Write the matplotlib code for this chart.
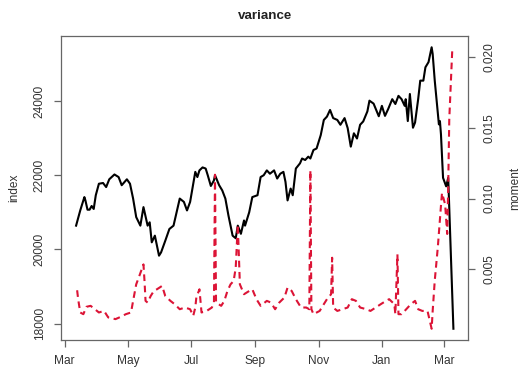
import matplotlib
matplotlib.use("Agg")
import matplotlib.pyplot as plt
import matplotlib.dates as mdates
import numpy as np
import pandas as pd

plt.rcParams["font.family"] = ["Liberation Sans", "DejaVu Sans"]

# Index level (left axis)
index_dates = [
    "2019-03-12", "2019-03-16", "2019-03-20", "2019-03-21", "2019-03-23", "2019-03-25",
    "2019-03-27", "2019-03-29", "2019-03-31", "2019-04-03", "2019-04-07", "2019-04-10",
    "2019-04-13", "2019-04-18", "2019-04-22", "2019-04-25", "2019-04-30", "2019-05-03",
    "2019-05-06", "2019-05-09", "2019-05-13", "2019-05-16", "2019-05-20", "2019-05-22",
    "2019-05-24", "2019-05-27", "2019-05-31", "2019-06-02", "2019-06-06", "2019-06-10",
    "2019-06-14", "2019-06-20", "2019-06-24", "2019-06-27", "2019-06-30", "2019-07-05",
    "2019-07-07", "2019-07-09", "2019-07-12", "2019-07-15", "2019-07-17", "2019-07-20",
    "2019-07-23", "2019-07-24", "2019-07-28", "2019-07-31", "2019-08-03", "2019-08-06",
    "2019-08-10", "2019-08-13", "2019-08-15", "2019-08-18", "2019-08-21", "2019-08-22",
    "2019-08-26", "2019-08-29", "2019-09-03", "2019-09-06", "2019-09-09", "2019-09-12",
    "2019-09-15", "2019-09-19", "2019-09-22", "2019-09-25", "2019-09-28", "2019-09-30",
    "2019-10-02", "2019-10-05", "2019-10-07", "2019-10-10", "2019-10-14", "2019-10-16",
    "2019-10-19", "2019-10-22", "2019-10-24", "2019-10-27", "2019-10-30", "2019-11-03",
    "2019-11-06", "2019-11-09", "2019-11-12", "2019-11-15", "2019-11-19", "2019-11-22",
    "2019-11-26", "2019-11-29", "2019-12-02", "2019-12-05", "2019-12-08", "2019-12-11",
    "2019-12-14", "2019-12-18", "2019-12-20", "2019-12-24", "2019-12-29", "2020-01-01",
    "2020-01-04", "2020-01-07", "2020-01-11", "2020-01-14", "2020-01-17", "2020-01-20",
    "2020-01-23", "2020-01-24", "2020-01-26", "2020-01-28", "2020-01-31", "2020-02-02",
    "2020-02-05", "2020-02-07", "2020-02-10", "2020-02-12", "2020-02-15", "2020-02-18",
    "2020-02-19", "2020-02-21", "2020-02-25", "2020-02-26", "2020-02-27", "2020-02-29",
    "2020-03-03", "2020-03-05", "2020-03-10",
]
index_values = [
    20640, 21050, 21410, 21320, 21070, 21070,
    21170, 21090, 21460, 21770, 21790, 21680,
    21890, 22020, 21950, 21730, 21890, 21770,
    21370, 20870, 20640, 21140, 20640, 20730,
    20190, 20370, 19830, 19920, 20230, 20550,
    20640, 21370, 21280, 21050, 21280, 22090,
    21950, 22130, 22210, 22180, 22000, 21710,
    21860, 22000, 21730, 21590, 21370, 20910,
    20370, 20300, 20640, 20420, 20780, 20640,
    21000, 21410, 21460, 21950, 22000, 22130,
    22040, 22130, 21910, 22040, 22090, 21820,
    21320, 21640, 21460, 22180, 22320, 22450,
    22410, 22500, 22450, 22680, 22720, 23080,
    23490, 23580, 23760, 23540, 23490, 23360,
    23540, 23270, 22770, 23130, 22990, 23360,
    23450, 23720, 24010, 23930, 23590, 23870,
    23600, 23780, 24050, 23920, 24140, 24050,
    23870, 24050, 23460, 24190, 23280, 23420,
    24050, 24550, 24550, 24910, 25050, 25450,
    25270, 24550, 23370, 23460, 23100, 21930,
    21700, 21930, 17860,
]

# Moment series (right axis)
moment_dates = [
    "2019-03-13", "2019-03-14", "2019-03-16", "2019-03-19", "2019-03-22", "2019-03-26",
    "2019-03-29", "2019-04-03", "2019-04-08", "2019-04-12", "2019-04-19", "2019-04-24",
    "2019-04-29", "2019-05-04", "2019-05-06", "2019-05-09", "2019-05-12", "2019-05-16",
    "2019-05-17", "2019-05-18", "2019-05-20", "2019-05-23", "2019-05-26", "2019-05-29",
    "2019-06-03", "2019-06-06", "2019-06-11", "2019-06-15", "2019-06-20", "2019-06-25",
    "2019-06-30", "2019-07-03", "2019-07-05", "2019-07-06", "2019-07-09", "2019-07-11",
    "2019-07-16", "2019-07-21", "2019-07-23", "2019-07-24", "2019-07-25", "2019-07-30",
    "2019-08-02", "2019-08-05", "2019-08-08", "2019-08-11", "2019-08-13", "2019-08-15",
    "2019-08-17", "2019-08-21", "2019-08-26", "2019-08-29", "2019-09-02", "2019-09-06",
    "2019-09-12", "2019-09-16", "2019-09-20", "2019-09-24", "2019-09-29", "2019-10-02",
    "2019-10-06", "2019-10-10", "2019-10-15", "2019-10-20", "2019-10-23", "2019-10-24",
    "2019-10-25", "2019-10-27", "2019-11-02", "2019-11-05", "2019-11-09", "2019-11-13",
    "2019-11-14", "2019-11-15", "2019-11-19", "2019-11-24", "2019-11-29", "2019-12-03",
    "2019-12-07", "2019-12-11", "2019-12-17", "2019-12-21", "2019-12-26", "2019-12-31",
    "2020-01-05", "2020-01-08", "2020-01-13", "2020-01-14", "2020-01-16", "2020-01-17",
    "2020-01-20", "2020-01-23", "2020-01-26", "2020-01-29", "2020-02-02", "2020-02-05",
    "2020-02-09", "2020-02-14", "2020-02-18", "2020-02-19", "2020-02-21", "2020-02-24",
    "2020-02-27", "2020-02-28", "2020-03-02", "2020-03-04", "2020-03-05", "2020-03-06",
    "2020-03-09",
]
moment_values = [
    0.00352, 0.00289, 0.00195, 0.00183, 0.00235, 0.00242,
    0.00225, 0.00195, 0.00206, 0.00160, 0.00148, 0.00164,
    0.00183, 0.00195, 0.00277, 0.00394, 0.00453, 0.00535,
    0.00418, 0.00277, 0.00265, 0.00312, 0.00347, 0.00359,
    0.00383, 0.00312, 0.00277, 0.00254, 0.00218, 0.00230,
    0.00218, 0.00171, 0.00230, 0.00301, 0.00359, 0.00195,
    0.00206, 0.00230, 0.00265, 0.01169, 0.00265, 0.00242,
    0.00277, 0.00347, 0.00394, 0.00418, 0.00512, 0.00817,
    0.00394, 0.00324, 0.00347, 0.00359, 0.00289, 0.00242,
    0.00277, 0.00265, 0.00218, 0.00265, 0.00301, 0.00371,
    0.00347, 0.00289, 0.00230, 0.00230, 0.00218, 0.01200,
    0.00218, 0.00183, 0.00206, 0.00242, 0.00289, 0.00324,
    0.00582, 0.00230, 0.00206, 0.00218, 0.00230, 0.00289,
    0.00277, 0.00230, 0.00218, 0.00206, 0.00230, 0.00254,
    0.00277, 0.00289, 0.00254, 0.00183, 0.00606, 0.00183,
    0.00183, 0.00206, 0.00230, 0.00254, 0.00277, 0.00218,
    0.00206, 0.00206, 0.00080, 0.00206, 0.00420, 0.00660,
    0.00950, 0.01040, 0.00960, 0.00750, 0.01090, 0.01560,
    0.02070,
]

left_ticks = [18000, 20000, 22000, 24000]
right_ticks = [0.005, 0.010, 0.015, 0.020]
right_tick_labels = ["0.005", "0.010", "0.015", "0.020"]

idx_t = pd.to_datetime(index_dates)
mom_t = pd.to_datetime(moment_dates)

TEXT = "#333333"
FRAME = "#666666"
FS = 8.6


def padded(lo, hi, frac=0.04):
    span = hi - lo
    return lo - frac * span, hi + frac * span


fig = plt.figure(figsize=(5.22, 3.70), dpi=100)
ax = fig.add_axes([61 / 522, 30 / 370, 407.5 / 522, 304 / 370])

ax.plot(idx_t, index_values, color="black", linewidth=1.5, solid_joinstyle="round")
x0 = mdates.date2num(idx_t.min())
x1 = mdates.date2num(idx_t.max())
ax.set_xlim(*padded(x0, x1))
ax.set_ylim(*padded(min(index_values), max(index_values)))
ax.set_yticks(left_ticks)
ax.set_yticklabels([str(v) for v in left_ticks])

ax.xaxis.set_major_locator(mdates.MonthLocator(bymonth=[1, 3, 5, 7, 9, 11]))
ax.xaxis.set_major_formatter(mdates.DateFormatter("%b"))

ax2 = ax.twinx()
ax2.plot(mom_t, moment_values, color="#dc1436", linewidth=1.5,
         linestyle=(0, (3.2, 2.2)))
ax2.set_ylim(*padded(min(moment_values), max(moment_values)))
ax2.set_yticks(right_ticks)
ax2.set_yticklabels(right_tick_labels)

# one frame only: the left axes carries the box, the twin only its right spine
for name, s in ax.spines.items():
    s.set_color(FRAME)
    s.set_linewidth(0.9)
for name, s in ax2.spines.items():
    s.set_visible(name == "right")
    s.set_color(FRAME)
    s.set_linewidth(0.9)
ax.spines["right"].set_visible(False)

for a in (ax, ax2):
    a.tick_params(colors=FRAME, labelcolor=TEXT, labelsize=FS,
                  length=5, width=0.9, pad=6)

ax.tick_params(axis="y", labelrotation=90)
ax2.tick_params(axis="y", labelrotation=90)
for lab in ax.get_yticklabels() + ax2.get_yticklabels():
    lab.set_va("center")

fig.text(14 / 522, 1 - 188 / 370, "index", rotation=90, ha="center", va="center",
         fontsize=FS, color=TEXT)
fig.text(515 / 522, 1 - 188 / 370, "moment", rotation=90, ha="center", va="center",
         fontsize=FS, color=TEXT)
fig.text(264.75 / 522, 1 - 16 / 370, "variance", ha="center", va="center",
         fontsize=9.6, fontweight="bold", color="#222222")

fig.savefig("out.png", dpi=100, facecolor="white")
